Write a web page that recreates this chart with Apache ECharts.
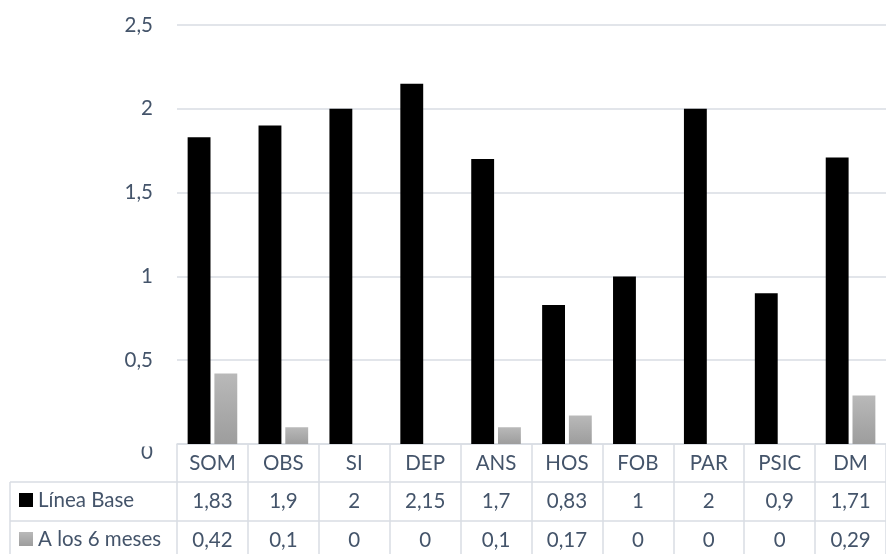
<!DOCTYPE html>
<html>
<head>
<meta charset="utf-8">
<script src="https://cdn.jsdelivr.net/npm/echarts@6/dist/echarts.min.js"></script>
<style>
  html, body { margin: 0; padding: 0; background: #ffffff; }
  #chart { width: 886px; height: 554px; }
</style>
</head>
<body>
<div id="chart"></div>
<script>
// Categories and series values
const categories = ['SOM', 'OBS', 'SI', 'DEP', 'ANS', 'HOS', 'FOB', 'PAR', 'PSIC', 'DM'];
const lineaBase = [1.83, 1.9, 2, 2.15, 1.7, 0.83, 1, 2, 0.9, 1.71];
const seisMeses = [0.42, 0.1, 0, 0, 0.1, 0.17, 0, 0, 0, 0.29];
const seriesNames = ['Línea Base', 'A los 6 meses'];
const yTicks = { min: 0, max: 2.5, interval: 0.5 };

const TEXT = '#44546a';
const LINE = '#d9dde3';
const FONT = 'Lato';
const FS = 20.5;

const fmt = v => String(v).replace('.', ',');

const grayFill = new echarts.graphic.LinearGradient(0, 0, 0, 1, [
  { offset: 0, color: '#b9b9b9' },
  { offset: 1, color: '#9d9d9d' }
]);

const chart = echarts.init(document.getElementById('chart'), null, { renderer: 'canvas' });

// table row axes share the category grid so columns line up with the bars
function rowAxis(values, margin) {
  return {
    type: 'category',
    gridIndex: 0,
    position: 'bottom',
    data: values.map(fmt),
    axisLine: { show: false },
    axisTick: { show: false },
    splitLine: { show: false },
    axisLabel: {
      interval: 0, margin: margin, verticalAlign: 'middle',
      color: TEXT, fontFamily: FONT, fontSize: FS
    }
  };
}

// one legend per table row, acting as the row header
function rowLegend(name, centerY) {
  return {
    data: [name],
    left: 19, top: centerY - 12, height: 24,
    padding: 0,
    itemWidth: 14, itemHeight: 14,
    itemTextGap: 6,
    icon: 'rect',
    selectedMode: false,
    textStyle: { color: TEXT, fontFamily: FONT, fontSize: FS, lineHeight: 24 }
  };
}

chart.setOption({
  animation: false,
  textStyle: { fontFamily: FONT },
  grid: { left: 177, top: 25, width: 719, height: 419, containLabel: false },
  legend: [rowLegend(seriesNames[0], 500), rowLegend(seriesNames[1], 539)],
  xAxis: [
    {
      type: 'category',
      data: categories,
      axisLine: { show: true, lineStyle: { color: LINE, width: 1.5 } },
      axisTick: { show: true, length: 112, lineStyle: { color: LINE, width: 1.5 } },
      axisLabel: {
        interval: 0, margin: 19, verticalAlign: 'middle',
        color: TEXT, fontFamily: FONT, fontSize: FS
      }
    },
    rowAxis(lineaBase, 57),
    rowAxis(seisMeses, 96)
  ],
  yAxis: {
    type: 'value',
    min: yTicks.min, max: yTicks.max, interval: yTicks.interval,
    axisLine: { show: false },
    axisTick: { show: false },
    splitLine: { lineStyle: { color: LINE, width: 1.5 } },
    axisLabel: {
      margin: 24,
      color: TEXT, fontFamily: FONT, fontSize: FS,
      formatter: v => v === 0 ? '{z|0}' : fmt(v),
      rich: { z: { color: TEXT, fontFamily: FONT, fontSize: FS, padding: [16, 0, 0, 0] } }
    }
  },
  series: [
    {
      name: seriesNames[0], type: 'bar', xAxisIndex: 0,
      data: lineaBase,
      barGap: '17%', barCategoryGap: '30%',
      itemStyle: { color: '#000000' }
    },
    {
      name: seriesNames[1], type: 'bar', xAxisIndex: 0,
      data: seisMeses,
      itemStyle: { color: grayFill }
    }
  ],
  graphic: [
    // table row separators and left border
    { type: 'line', shape: { x1: 10, y1: 482, x2: 886, y2: 482 }, style: { stroke: LINE, lineWidth: 1.5 }, z: 1 },
    { type: 'line', shape: { x1: 10, y1: 521, x2: 886, y2: 521 }, style: { stroke: LINE, lineWidth: 1.5 }, z: 1 },
    { type: 'line', shape: { x1: 10, y1: 482, x2: 10, y2: 554 }, style: { stroke: LINE, lineWidth: 1.5 }, z: 1 },
    // the zero tick label is partly hidden under the plot's lower edge
    { type: 'rect', shape: { x: 130, y: 425, width: 40, height: 21.5 }, style: { fill: '#ffffff' }, z: 100 }
  ]
});
</script>
</body>
</html>
